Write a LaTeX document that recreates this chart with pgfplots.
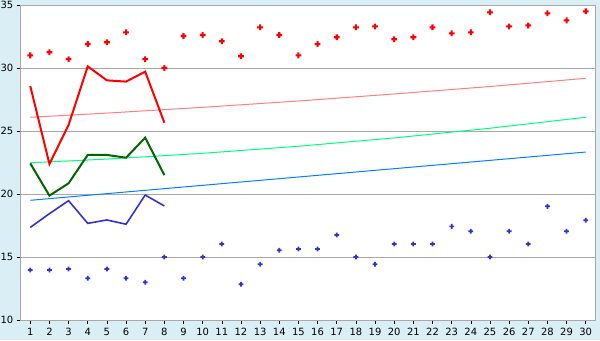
\documentclass[border=0pt]{standalone}
\usepackage{pgfplots}
\pgfplotsset{compat=1.18}
\usepackage{fontspec}
\setmainfont{DejaVu Sans}
\definecolor{bgblue}{HTML}{DAEFF5}
\definecolor{framegray}{HTML}{A8A8A8}
\definecolor{redl}{HTML}{FF0000}
\definecolor{darkg}{HTML}{006600}
\definecolor{bluel}{HTML}{3333CC}
\definecolor{pinkt}{HTML}{FF8080}
\definecolor{greent}{HTML}{00FF80}
\definecolor{bluet}{HTML}{0080FF}
\pgfdeclareplotmark{fatplus}{%
  \pgfmathsetlengthmacro{\s}{\pgfplotmarksize}%
  \pgfmathsetlengthmacro{\a}{0.36*\pgfplotmarksize}%
  \pgfpathmoveto{\pgfqpoint{-\a}{\s}}%
  \pgfpathlineto{\pgfqpoint{\a}{\s}}%
  \pgfpathlineto{\pgfqpoint{\a}{\a}}%
  \pgfpathlineto{\pgfqpoint{\s}{\a}}%
  \pgfpathlineto{\pgfqpoint{\s}{-\a}}%
  \pgfpathlineto{\pgfqpoint{\a}{-\a}}%
  \pgfpathlineto{\pgfqpoint{\a}{-\s}}%
  \pgfpathlineto{\pgfqpoint{-\a}{-\s}}%
  \pgfpathlineto{\pgfqpoint{-\a}{-\a}}%
  \pgfpathlineto{\pgfqpoint{-\s}{-\a}}%
  \pgfpathlineto{\pgfqpoint{-\s}{\a}}%
  \pgfpathlineto{\pgfqpoint{-\a}{\a}}%
  \pgfpathclose
  \pgfusepathqfill
}
\begin{document}
\begin{tikzpicture}[x=1bp,y=1bp]
\fill[bgblue] (0,0) rectangle (600,340);
\useasboundingbox (0,0) rectangle (600,340);
\begin{axis}[
  at={(20.7bp,20bp)}, anchor=south west,
  scale only axis, width=574.6bp, height=315bp,
  xmin=0.5, xmax=30.5, ymin=10, ymax=35,
  xtick={1,...,30}, ytick={10,15,...,35},
  axis background/.style={fill=white},
  axis line style={framegray, line width=0.8bp},
  ymajorgrids, grid style={framegray, line width=0.8bp},
  tick style={black, line width=0.6bp},
  xtick pos=bottom, ytick pos=left,
  tick align=outside, major tick length=4bp,
  tick label style={font=\fontsize{10}{12}\selectfont},
  /pgf/number format/assume math mode=true,
  xticklabel style={yshift=-1bp},
  clip=false,
]
% trend lines
\addplot[pinkt, line width=1bp] coordinates {(1,26.09)(5,26.42)(10,26.88)(15,27.38)(20,27.94)(25,28.53)(30,29.18)};
\addplot[greent, line width=1bp] coordinates {(1,22.48)(5,22.77)(10,23.23)(15,23.79)(20,24.45)(25,25.22)(30,26.09)};
\addplot[bluet, line width=1bp] coordinates {(1,19.5)(30,23.33)};
% main lines
\addplot[redl, line width=2bp] coordinates {(1,28.57)(2,22.38)(3,25.48)(4,30.13)(5,29.02)(6,28.92)(7,29.71)(8,25.66)};
\addplot[darkg, line width=2bp] coordinates {(1,22.43)(2,19.87)(3,20.85)(4,23.1)(5,23.1)(6,22.88)(7,24.47)(8,21.5)};
\addplot[bluel, line width=1.6bp] coordinates {(1,17.35)(2,18.44)(3,19.47)(4,17.67)(5,17.94)(6,17.6)(7,19.92)(8,19.05)};
% scatter
\addplot[only marks, mark=fatplus, mark size=2.9bp, mark options={fill=redl, draw=none}] coordinates {
(1,31.0)(2,31.25)(3,30.7)(4,31.9)(5,32.04)(6,32.83)(7,30.7)(8,30.0)(9,32.54)(10,32.62)
(11,32.12)(12,30.93)(13,33.23)(14,32.62)(15,31.0)(16,31.9)(17,32.44)(18,33.23)(19,33.3)(20,32.28)
(21,32.44)(22,33.23)(23,32.75)(24,32.83)(25,34.42)(26,33.3)(27,33.38)(28,34.34)(29,33.78)(30,34.5)};
\addplot[only marks, mark=fatplus, mark size=2.4bp, mark options={fill=bluel, draw=none}] coordinates {
(1,13.97)(2,13.97)(3,14.05)(4,13.31)(5,14.05)(6,13.31)(7,12.99)(8,15.0)(9,13.31)(10,15.0)
(11,16.03)(12,12.83)(13,14.42)(14,15.53)(15,15.63)(16,15.63)(17,16.75)(18,15.0)(19,14.42)(20,16.03)
(21,16.03)(22,16.03)(23,17.43)(24,17.04)(25,15.0)(26,17.04)(27,16.03)(28,19.02)(29,17.04)(30,17.91)};
\end{axis}
\end{tikzpicture}
\end{document}
